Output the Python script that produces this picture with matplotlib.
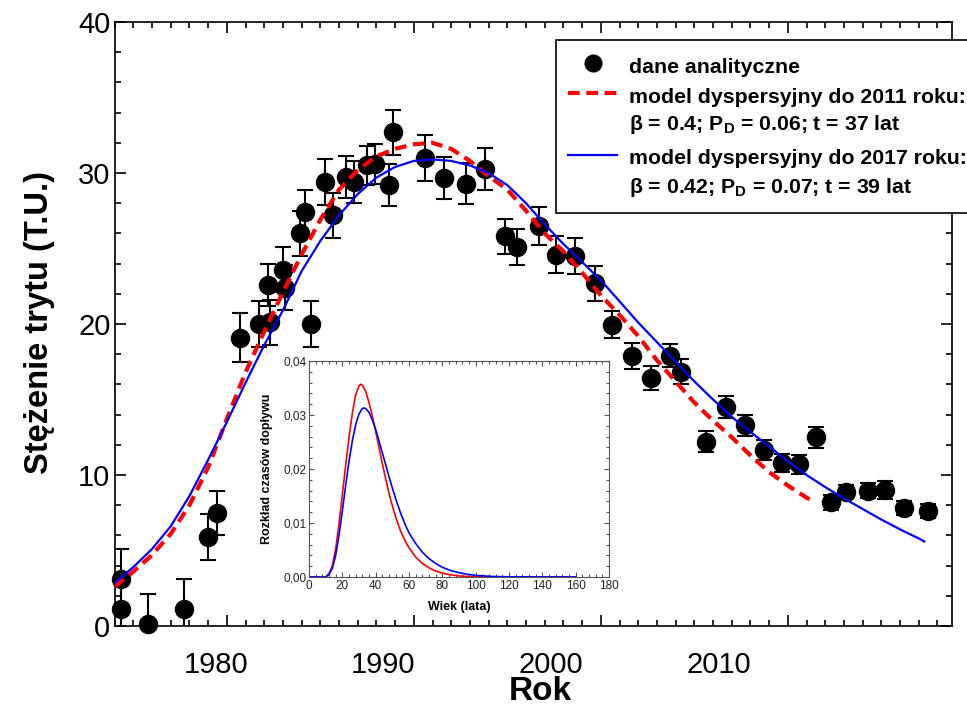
import matplotlib
matplotlib.use('Agg')
import matplotlib.pyplot as plt
from matplotlib import font_manager
from matplotlib.ticker import MultipleLocator, FuncFormatter
from matplotlib.transforms import Affine2D
from matplotlib.lines import Line2D
from matplotlib.patches import Rectangle

plt.rcParams['font.family'] = ['Liberation Sans', 'DejaVu Sans']
plt.rcParams['mathtext.fontset'] = 'custom'
plt.rcParams['mathtext.rm'] = 'Liberation Sans:bold'
plt.rcParams['mathtext.bf'] = 'Liberation Sans:bold'

names = {f.name for f in font_manager.fontManager.ttflist}
narrow = 'Liberation Sans Narrow' if 'Liberation Sans Narrow' in names else 'Liberation Sans'

# dane analityczne (rok, stezenie trytu, niepewnosc)
years = [1974.35, 1974.35, 1975.8, 1977.7, 1979.0, 1979.5, 1980.7, 1981.7, 1982.2, 1982.3,
         1983.0, 1983.1, 1983.9, 1984.2, 1984.5, 1985.25, 1985.7, 1986.4, 1986.8, 1987.5,
         1987.9, 1988.7, 1988.9, 1990.6, 1991.6, 1992.8, 1993.8, 1994.9, 1995.5, 1996.7,
         1997.6, 1998.6, 1999.7, 2000.6, 2001.65, 2002.7, 2003.7, 2004.3, 2005.6, 2006.7,
         2007.7, 2008.7, 2009.7, 2010.6, 2011.5, 2012.3, 2013.1, 2014.3, 2015.2, 2016.2,
         2017.5]
tritium = [1.1, 3.1, 0.1, 1.1, 5.9, 7.5, 19.1, 20.0, 22.6, 20.1,
           23.6, 22.4, 26.0, 27.4, 20.0, 29.4, 27.2, 29.75, 29.4, 30.5,
           30.6, 29.2, 32.7, 31.0, 29.65, 29.3, 30.25, 25.8, 25.1, 26.5,
           24.6, 24.5, 22.7, 19.95, 17.9, 16.4, 17.9, 16.85, 12.2, 14.5,
           13.3, 11.65, 10.8, 10.7, 12.5, 8.2, 8.9, 8.95, 9.0, 7.8,
           7.6]
tritium_err = [2.0, 2.0, 2.0, 2.0, 1.5, 1.45, 1.6, 1.5, 1.4, 1.5,
               1.5, 1.5, 1.5, 1.5, 1.5, 1.5, 1.5, 1.4, 1.4, 1.3,
               1.3, 1.4, 1.5, 1.5, 1.4, 1.35, 1.4, 1.15, 1.2, 1.25,
               1.2, 1.2, 1.15, 0.9, 0.85, 0.8, 0.75, 0.8, 0.7, 0.7,
               0.7, 0.65, 0.6, 0.65, 0.7, 0.5, 0.45, 0.5, 0.6, 0.45,
               0.45]

# model dyspersyjny do 2011 roku
m11_years = [1974.0, 1975.0, 1976.0, 1977.0, 1978.0, 1979.0, 1980.0, 1981.0, 1982.0, 1983.0,
             1984.0, 1985.0, 1986.0, 1987.0, 1988.0, 1989.0, 1990.0, 1991.0, 1992.0, 1993.0,
             1994.0, 1995.0, 1996.0, 1997.0, 1998.0, 1999.0, 2000.0, 2001.0, 2002.0, 2003.0,
             2004.0, 2005.0, 2006.0, 2007.0, 2008.0, 2009.0, 2010.0, 2011.0, 2011.3]
m11_vals = [2.6, 3.6, 4.7, 6.1, 8.0, 10.5, 13.7, 16.8, 19.5, 22.1,
            24.6, 26.9, 28.9, 30.2, 31.1, 31.6, 31.9, 32.0, 31.6, 30.8,
            29.8, 28.9, 27.5, 26.0, 24.8, 23.4, 21.9, 20.6, 19.2, 17.6,
            16.2, 14.8, 13.6, 12.5, 11.3, 10.2, 9.3, 8.5, 8.3]

# model dyspersyjny do 2017 roku
m17_years = [1974.0, 1975.0, 1976.0, 1977.0, 1978.0, 1979.0, 1980.0, 1981.0, 1982.0, 1983.0,
             1984.0, 1985.0, 1986.0, 1987.0, 1988.0, 1989.0, 1990.0, 1991.0, 1992.0, 1993.0,
             1994.0, 1995.0, 1996.0, 1997.0, 1998.0, 1999.0, 2000.0, 2001.0, 2002.0, 2003.0,
             2004.0, 2005.0, 2006.0, 2007.0, 2008.0, 2009.0, 2010.0, 2011.0, 2012.0, 2013.0,
             2014.0, 2015.0, 2016.0, 2017.0, 2017.3]
m17_vals = [2.85, 3.9, 5.1, 6.6, 8.6, 11.0, 13.5, 16.1, 18.6, 20.9,
            23.5, 25.5, 27.2, 28.6, 29.7, 30.4, 30.8, 30.9, 30.8, 30.5,
            30.0, 29.2, 28.0, 26.6, 25.3, 24.1, 22.9, 21.5, 20.1, 18.8,
            17.5, 16.2, 15.0, 13.85, 12.85, 11.9, 10.9, 10.0, 9.2, 8.45,
            7.75, 7.05, 6.4, 5.8, 5.6]

# rozklad czasow doplywu (wstawka)
age_red = [0, 10, 12, 14, 16, 18, 20, 22, 24, 26, 28, 30, 31, 32, 34, 36, 38, 40, 42, 44,
           46, 48, 50, 52, 55, 58, 60, 64, 68, 72, 76, 80, 85, 90, 95, 100, 110, 120, 160]
dist_red = [0, 0, 0.0006, 0.0021, 0.0052, 0.0098, 0.0152, 0.0207, 0.0258, 0.0303, 0.0337, 0.0354,
            0.0357, 0.0355, 0.0344, 0.0323, 0.0298, 0.0270, 0.0240, 0.0210,
            0.0182, 0.0155, 0.0132, 0.0111, 0.0085, 0.0065, 0.0054, 0.0037, 0.0025, 0.0017,
            0.0011, 0.0007, 0.0004, 0.0002, 0.0001, 0.00005, 0, 0, 0]
age_blue = [0, 10, 12, 14, 16, 18, 20, 22, 24, 26, 28, 30, 32, 33, 34, 36, 38, 40, 42, 44,
            46, 48, 50, 52, 55, 58, 60, 64, 68, 72, 76, 80, 85, 90, 95, 100, 110, 120, 160]
dist_blue = [0, 0, 0.0005, 0.0016, 0.0040, 0.0077, 0.0122, 0.0170, 0.0214, 0.0252, 0.0282, 0.0302,
             0.0312, 0.0313, 0.0312, 0.0305, 0.0291, 0.0273, 0.0252, 0.0230,
             0.0208, 0.0186, 0.0165, 0.0145, 0.0118, 0.0095, 0.0082, 0.0062, 0.0046, 0.0034,
             0.0025, 0.0018, 0.0012, 0.0008, 0.0005, 0.0003, 0.0001, 0.00003, 0]

year_ticks = [1980, 1990, 2000, 2010]
year_labels = ['1980', '1990', '2000', '2010']

fig = plt.figure(figsize=(9.67, 7.08), dpi=100)
px = Affine2D().scale(1 / 967, -1 / 708).translate(0, 1) + fig.transFigure

ax = fig.add_axes([114.6 / 967, 1 - 626 / 708, 837.4 / 967, 604 / 708])
ax.errorbar(years, tritium, yerr=tritium_err, fmt='none', ecolor='black',
            elinewidth=1.5, capsize=6, capthick=1.5, zorder=2)
ax.plot(years, tritium, 'o', color='black', ms=13, clip_on=False, zorder=3)
ax.plot(m11_years, m11_vals, color='red', lw=3, dashes=(2.8, 1.6), zorder=4)
ax.plot(m17_years, m17_vals, color='blue', lw=1.6, zorder=4)

ax.set_xlim(1974, 2018.78)
ax.set_ylim(0, 40)
ax.set_xticks(year_ticks)
ax.set_xticklabels([])
ax.xaxis.set_minor_locator(MultipleLocator(1))
ax.yaxis.set_major_locator(MultipleLocator(10))
ax.yaxis.set_minor_locator(MultipleLocator(2))
ax.tick_params(which='both', direction='in', top=True, right=True, width=1.2)
ax.tick_params(which='major', length=8, labelsize=21, pad=3)
ax.tick_params(which='minor', length=4.5)
for s in ax.spines.values():
    s.set_linewidth(1.2)

# etykiety lat (przesuniete jak w oryginale)
for pos, lab in zip([1979.4, 1988.35, 1997.33, 2006.3], year_labels):
    ax.text(pos, -0.064, lab, transform=ax.get_xaxis_transform(), ha='center', va='center',
            fontsize=21, family=[narrow, 'DejaVu Sans'])

fig.text(40, 323, 'Stężenie trytu (T.U.)', transform=px, rotation=90, ha='center',
         va='center', fontsize=23.5, fontweight='bold')
fig.text(540, 691, 'Rok', transform=px, ha='center', va='center', fontsize=24,
         fontweight='bold', family=[narrow, 'DejaVu Sans'])

# legenda
fig.add_artist(Rectangle((556, 40), 420, 173, transform=px, fc='white', ec='black', lw=1.2))
fig.add_artist(Line2D([593], [63], transform=px, marker='o', ms=12, color='black', ls='none'))
fig.add_artist(Line2D([568, 617], [93, 93], transform=px, color='red', lw=3, dashes=(2.8, 1.6)))
fig.add_artist(Line2D([568, 617], [155, 155], transform=px, color='blue', lw=1.6))
leg_kw = dict(transform=px, fontsize=15.3, fontweight='bold', va='baseline', ha='left')
fig.text(629, 72.7, 'dane analityczne', **leg_kw)
fig.text(629, 102.7, 'model dyspersyjny do 2011 roku:', **leg_kw)
fig.text(629, 130.5, r'β = 0.4; P$_\mathbf{D}$ = 0.06; t = 37 lat', **leg_kw)
fig.text(629, 164.3, 'model dyspersyjny do 2017 roku:', **leg_kw)
fig.text(629, 192.7, r'β = 0.42; P$_\mathbf{D}$ = 0.07; t = 39 lat', **leg_kw)

# wstawka
ins = fig.add_axes([309 / 967, 1 - 577 / 708, 300 / 967, 216 / 708])
ins.plot(age_red, dist_red, color='red', lw=1.2)
ins.plot(age_blue, dist_blue, color='blue', lw=1.2)
ins.set_xlim(0, 180)
ins.set_ylim(0, 0.04)
ins.xaxis.set_major_locator(MultipleLocator(20))
ins.xaxis.set_minor_locator(MultipleLocator(4))
ins.yaxis.set_major_locator(MultipleLocator(0.01))
ins.yaxis.set_minor_locator(MultipleLocator(0.002))
ins.yaxis.set_major_formatter(FuncFormatter(lambda v, p: f'{v:.2f}'.replace('.', ',')))
ins.tick_params(which='both', direction='in', top=True, right=True, color='#555',
                labelcolor='#222', labelsize=8.5, width=0.8, pad=2)
ins.tick_params(which='major', length=3.5)
ins.tick_params(which='minor', length=2)
for s in ins.spines.values():
    s.set_linewidth(0.8)
    s.set_color('#555')
ins.set_xlabel('Wiek (lata)', fontsize=9, fontweight='bold', va='center')
ins.xaxis.set_label_coords(0.5, -0.1375)
ins.set_ylabel('Rozkład czasów dopływu', fontsize=9, fontweight='bold', va='center')
ins.yaxis.set_label_coords(-0.141, 0.5)

fig.savefig('out.png', dpi=100)
